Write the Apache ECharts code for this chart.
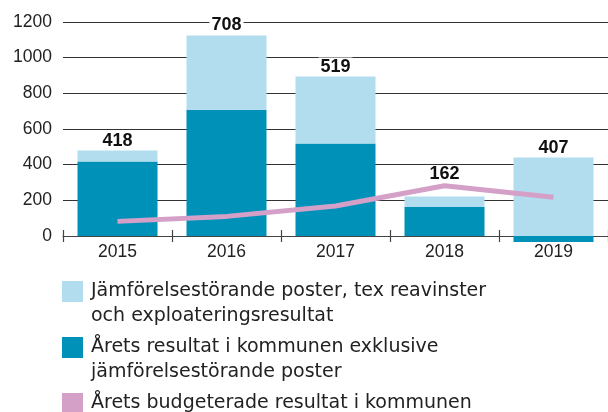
<!DOCTYPE html>
<html>
<head>
<meta charset="utf-8">
<script src="https://cdn.jsdelivr.net/npm/echarts@6/dist/echarts.min.js"></script>
<style>
  html, body { margin: 0; padding: 0; background: #fff; }
  #chart { width: 608px; height: 412px; }
</style>
</head>
<body>
<div id="chart"></div>
<script>
// Kommunens resultat 2015–2019 (mnkr)
const years = ['2015', '2016', '2017', '2018', '2019'];
const resultatExkl = [418, 708, 519, 162, -33];      // Årets resultat exkl. jämförelsestörande poster
const jamforelsestorande = [61, 417, 375, 60, 440];  // Jämförelsestörande poster
const budgeterat = [82, 110, 168, 282, 217];         // Budgeterat resultat
const resultatEtiketter = [418, 708, 519, 162, 407]; // Värden som skrivs ovanför staplarna
const yTicks = { min: 0, max: 1200, interval: 200 };

const names = [
  'Jämförelsestörande poster, tex reavinster\noch exploateringsresultat',
  'Årets resultat i kommunen exklusive\njämförelsestörande poster',
  'Årets budgeterade resultat i kommunen'
];

const LIGHT = '#b1ddef';
const DARK = '#0091b8';
const PINK = '#d4a0c8';
const axisFont = { fontFamily: 'Liberation Sans', fontSize: 17.5, color: '#222' };

// One legend per entry; two-line entries get a blank leading line so that
// the first text line sits level with the colour square.
function legendAt(name, top, twoLines) {
  return {
    data: [name],
    left: 62,
    top: top,
    padding: 0,
    orient: 'vertical',
    icon: 'rect',
    itemWidth: 21,
    itemHeight: 21,
    selectedMode: false,
    formatter: n => (twoLines ? '\n' + n : n),
    textStyle: {
      fontFamily: 'DejaVu Sans',
      fontSize: 19,
      lineHeight: 25,
      color: '#222',
      padding: [0, 0, 0, 3]
    }
  };
}

const chart = echarts.init(document.getElementById('chart'), null, { renderer: 'canvas' });

chart.setOption({
  animation: false,
  backgroundColor: '#fff',
  grid: { left: 63, top: 22, width: 555, height: 214, containLabel: false },
  legend: [
    legendAt(names[0], 254, true),
    legendAt(names[1], 310, true),
    legendAt(names[2], 391, false)
  ],
  xAxis: [
    {
      type: 'category',
      data: years,
      position: 'bottom',
      axisLine: { onZero: true, lineStyle: { color: '#444', width: 1.2 } },
      axisTick: { show: true, length: 6, lineStyle: { color: '#444', width: 1.2 } },
      axisLabel: Object.assign({ margin: 7 }, axisFont)
    },
    {
      type: 'category',
      data: years,
      position: 'bottom',
      offset: 0,
      axisLine: { show: false },
      axisTick: { show: true, inside: true, length: 6, lineStyle: { color: '#444', width: 1.2 } },
      axisLabel: { show: false }
    }
  ],
  yAxis: {
    type: 'value',
    min: yTicks.min,
    max: yTicks.max,
    interval: yTicks.interval,
    axisLine: { show: false },
    axisTick: { show: false },
    axisLabel: Object.assign({ margin: 11, formatter: v => String(v) }, axisFont),
    splitLine: { lineStyle: { color: '#333', width: 1.2 } }
  },
  series: [
    {
      name: names[1],
      type: 'bar',
      stack: 'resultat',
      barWidth: 80,
      clip: false,
      itemStyle: { color: DARK },
      data: resultatExkl
    },
    {
      name: names[0],
      type: 'bar',
      stack: 'resultat',
      barWidth: 80,
      clip: false,
      itemStyle: { color: LIGHT },
      label: {
        show: true,
        position: 'top',
        distance: 1,
        fontFamily: 'Liberation Sans',
        fontWeight: 'bold',
        fontSize: 18,
        color: '#111',
        backgroundColor: '#fff',
        padding: [0, 2, 0, 2],
        formatter: p => String(resultatEtiketter[p.dataIndex])
      },
      data: jamforelsestorande.map((v, i) =>
        i === 3 ? { value: v, label: { offset: [0, -12] } } : v)
    },
    {
      name: names[2],
      type: 'line',
      color: PINK,
      symbol: 'none',
      itemStyle: { color: PINK },
      lineStyle: { color: PINK, width: 5 },
      z: 5,
      data: budgeterat
    }
  ]
});
</script>
</body>
</html>
